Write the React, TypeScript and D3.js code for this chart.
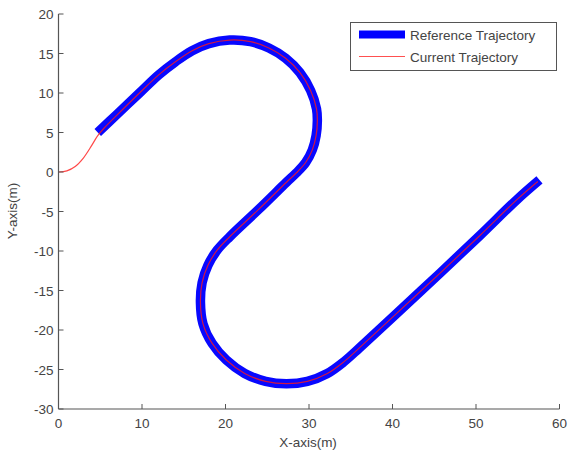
import React from "react";
import * as d3 from "d3";

const refX = [4.7, 7, 9.7, 12, 14, 16, 18, 20.5, 23, 25.2, 27.2, 28.9, 30.2, 30.9, 31, 30.85, 30.4, 29.6, 28.5, 27.3, 24, 20.5, 19, 17.9, 17.2, 17, 17.3, 18.4, 20.1, 22.3, 24.8, 27.3, 29.8, 32.2, 34.2, 36, 40.5, 45.7, 50.5, 54.9, 57.6];
const refY = [5.0, 7.3, 10, 12.3, 13.95, 15.35, 16.25, 16.7, 16.5, 15.7, 14.4, 12.6, 10.3, 8.0, 6.5, 4.6, 2.8, 1.2, -0.1, -1.3, -4.7, -8.2, -9.9, -11.8, -14, -16.5, -19.2, -21.7, -23.8, -25.5, -26.5, -26.8, -26.5, -25.5, -24.0, -22.3, -17.9, -12.8, -8.0, -3.5, -1.0];

const curX = [0, 1, 2, 3, 4, 4.7, 5.5, 7, 9.7, 12, 14, 16, 18, 20.5, 23, 25.2, 27.2, 28.9, 30.2, 30.9, 31, 30.85, 30.4, 29.6, 28.5, 27.3, 24, 20.5, 19, 17.9, 17.2, 17, 17.3, 18.4, 20.1, 22.3, 24.8, 27.3, 29.8, 32.2, 34.2, 36, 40.5, 45.7, 50.5, 54.9, 57.4];
const curY = [0, 0.15, 0.7, 1.8, 3.4, 4.6, 5.6, 7.2, 10, 12.3, 13.95, 15.35, 16.25, 16.7, 16.5, 15.7, 14.4, 12.6, 10.3, 8.0, 6.5, 4.6, 2.8, 1.2, -0.1, -1.3, -4.7, -8.2, -9.9, -11.8, -14, -16.5, -19.2, -21.7, -23.8, -25.5, -26.5, -26.8, -26.5, -25.5, -24.0, -22.3, -17.9, -12.8, -8.0, -3.5, -1.2];

const xTicks = [0, 10, 20, 30, 40, 50, 60];
const yTicks = [-30, -25, -20, -15, -10, -5, 0, 5, 10, 15, 20];
const seriesNames = ["Reference Trajectory", "Current Trajectory"];
const xLabel = "X-axis(m)";
const yLabel = "Y-axis(m)";

export default function App() {
  const W = 569, H = 453;
  const left = 58.5, right = 559.5, top = 14, bottom = 409;
  const x = d3.scaleLinear().domain([0, 60]).range([left, right]);
  const y = d3.scaleLinear().domain([-30, 20]).range([bottom, top]);
  const line = d3.line<[number, number]>().x(d => x(d[0])).y(d => y(d[1])).curve(d3.curveCatmullRom.alpha(0.5));
  const refPts = refX.map((v, i) => [v, refY[i]] as [number, number]);
  const curPts = curX.map((v, i) => [v, curY[i]] as [number, number]);
  const font = "'Liberation Sans', Arial, sans-serif";
  const txt = "#444";
  const axisCol = "#555";
  return (
    <svg width={W} height={H} style={{ position: "absolute", left: 0, top: 0, background: "#fff" }}>
      <rect x={0} y={0} width={W} height={H} fill="#fff" />
      <path d={line(refPts) || ""} fill="none" stroke="#0000ff" strokeWidth={9.5} strokeLinejoin="round" opacity={0.97} />
      <path d={line(curPts) || ""} fill="none" stroke="#ff1a1a" strokeWidth={1.2} strokeLinejoin="round" opacity={0.8} />
      <line x1={left} x2={left} y1={top} y2={bottom} stroke={axisCol} strokeWidth={1.2} />
      <line x1={left} x2={right} y1={bottom} y2={bottom} stroke={axisCol} strokeWidth={1.2} />
      {xTicks.map(t => (
        <g key={"x" + t}>
          <line x1={x(t)} x2={x(t)} y1={bottom} y2={bottom - 5} stroke={axisCol} strokeWidth={1} />
          <text x={x(t)} y={bottom + 19} textAnchor="middle" fontFamily={font} fontSize={13.5} fill={txt}>{t}</text>
        </g>
      ))}
      {yTicks.map(t => (
        <g key={"y" + t}>
          <line x1={left} x2={left + 5} y1={y(t)} y2={y(t)} stroke={axisCol} strokeWidth={1} />
          <text x={left - 5} y={y(t) + 5} textAnchor="end" fontFamily={font} fontSize={13.5} fill={txt}>{t}</text>
        </g>
      ))}
      <text x={308} y={447} textAnchor="middle" fontFamily={font} fontSize={13.5} fill={txt}>{xLabel}</text>
      <text transform={`translate(17,211) rotate(-90)`} textAnchor="middle" fontFamily={font} fontSize={13.5} fill={txt}>{yLabel}</text>
      <rect x={350.5} y={22.5} width={206} height={48} fill="#fff" stroke="#555" strokeWidth={1} />
      <line x1={359} x2={405} y1={34.5} y2={34.5} stroke="#0000ff" strokeWidth={8} />
      <line x1={359} x2={405} y1={56.5} y2={56.5} stroke="#ff5050" strokeWidth={1.2} />
      <text x={410} y={39.5} fontFamily={font} fontSize={13.5} fill={txt}>{seriesNames[0]}</text>
      <text x={410} y={61.5} fontFamily={font} fontSize={13.5} fill={txt}>{seriesNames[1]}</text>
    </svg>
  );
}
